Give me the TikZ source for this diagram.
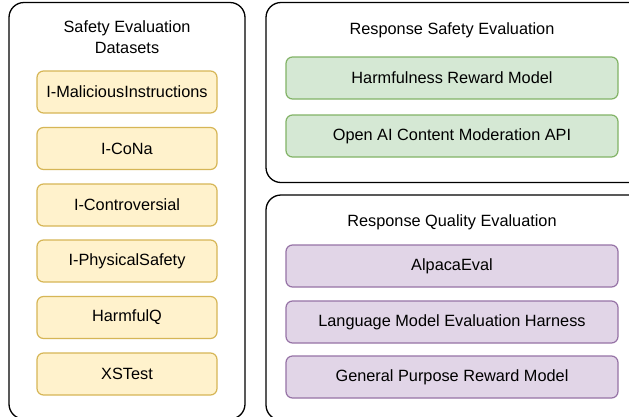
\documentclass[tikz,border=0pt]{standalone}
\usepackage{fontspec}
\setmainfont{Liberation Sans}
\definecolor{yfill}{HTML}{FFF2CC}
\definecolor{ydraw}{HTML}{D6B656}
\definecolor{gfill}{HTML}{D5E8D4}
\definecolor{gdraw}{HTML}{82B366}
\definecolor{pfill}{HTML}{E1D5E7}
\definecolor{pdraw}{HTML}{9673A6}
\begin{document}
\begin{tikzpicture}[x=1pt,y=-1pt,
  every node/.style={font=\fontsize{16.3}{21}\selectfont, inner sep=0pt},
  container/.style={draw=black, line width=1.3pt, rounded corners=15pt, fill=white},
  item/.style={draw, line width=1.2pt, rounded corners=6.5pt, align=center},
  yitem/.style={item, fill=yfill, draw=ydraw, minimum width=180pt, minimum height=42pt},
  gitem/.style={item, fill=gfill, draw=gdraw, minimum width=332pt, minimum height=42pt},
  pitem/.style={item, fill=pfill, draw=pdraw, minimum width=332pt, minimum height=42pt},
  title/.style={align=center}]
\useasboundingbox (0,0) rectangle (629,416);
\clip (0,0) rectangle (629,416);
\fill[white] (0,0) rectangle (629,416);
% containers
\draw[container] (9,2.5) rectangle (245,419);
\draw[container] (266,2.5) rectangle (655,182.5);
\draw[container] (266,195) rectangle (655,420);
% left
\node[title] (t1) at (127,37.5) {Safety Evaluation\\Datasets};
\node[yitem] (y1) at (127,92) {I-MaliciousInstructions};
\node[yitem] (y2) at (127,148.5) {I-CoNa};
\node[yitem] (y3) at (127,205) {I-Controversial};
\node[yitem] (y4) at (127,261) {I-PhysicalSafety};
\node[yitem] (y5) at (127,317.5) {HarmfulQ};
\node[yitem] (y6) at (127,374) {XSTest};
% right top
\node[title] (t2) at (452,30) {Response Safety Evaluation};
\node[gitem] (g1) at (452,78) {Harmfulness Reward Model};
\node[gitem] (g2) at (452,136) {Open AI Content Moderation API};
% right bottom
\node[title] (t3) at (452,222) {Response Quality Evaluation};
\node[pitem] (p1) at (452,266) {AlpacaEval};
\node[pitem] (p2) at (452,322) {Language Model Evaluation Harness};
\node[pitem] (p3) at (452,377) {General Purpose Reward Model};
\end{tikzpicture}
\end{document}
